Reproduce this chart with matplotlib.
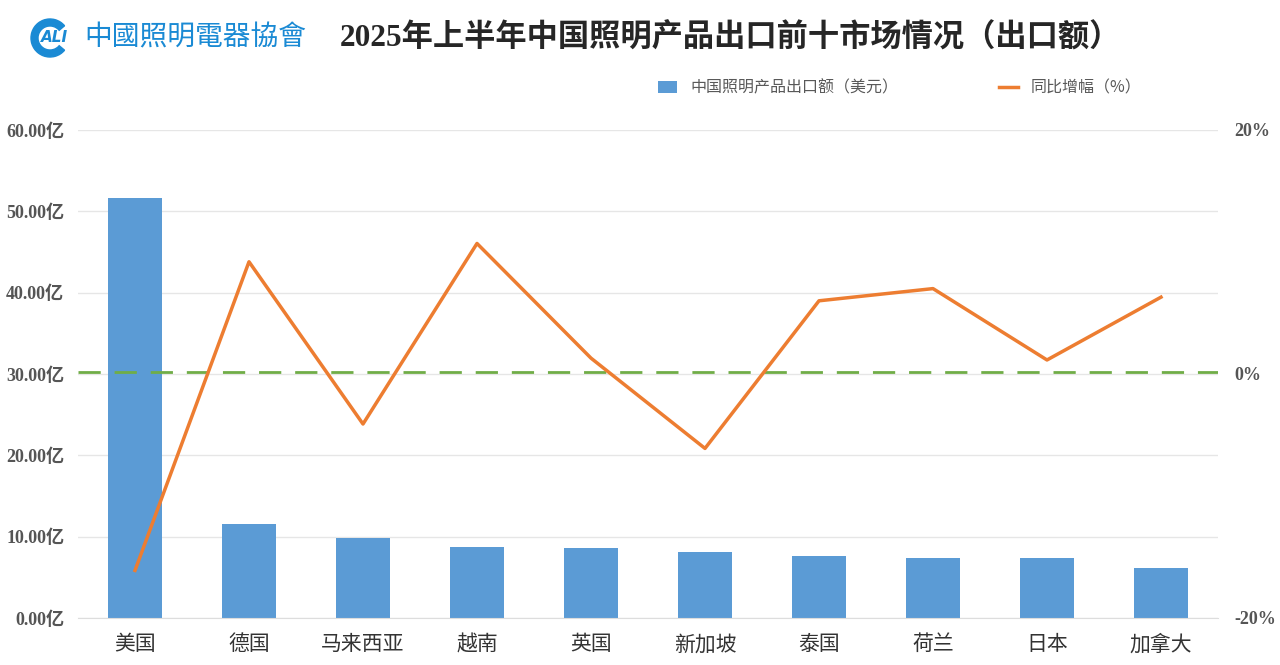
import matplotlib
matplotlib.use("Agg")
import numpy as np
from matplotlib import pyplot as plt
from matplotlib.patches import Wedge

# data
countries = ['美国', '德国', '马来西亚', '越南', '英国', '新加坡', '泰国', '荷兰', '日本', '加拿大']
export_yi = [51.6, 11.5, 9.8, 8.7, 8.6, 8.1, 7.6, 7.4, 7.35, 6.1]   # 亿美元
yoy_pct = [-16.1, 9.2, -4.1, 10.7, 1.3, -6.1, 6.0, 7.0, 1.15, 6.3]   # %
ref_line = 0.2
left_ticks = [0, 10, 20, 30, 40, 50, 60]
right_ticks = [-20, 0, 20]

plt.rcParams['font.family'] = ['Liberation Serif', 'Noto Sans CJK SC', 'DejaVu Sans']

fig = plt.figure(figsize=(12.8, 6.65), dpi=100)
ax = fig.add_axes([78 / 1280, 1 - 618 / 665, 1140 / 1280, 488 / 665])
ax2 = ax.twinx()

x = np.arange(len(countries))
ax.bar(x, export_yi, width=0.48, color='#5b9bd5', zorder=2,
       label='中国照明产品出口额（美元）')
ax.set_xlim(-0.5, len(countries) - 0.5)
ax.set_ylim(0, 60)
ax.set_yticks(left_ticks)
ax.set_yticklabels(['%.2f亿' % v for v in left_ticks], fontsize=13,
                   fontweight='bold', color='#555555')
ax.set_xticks(x)
ax.set_xticklabels(countries, fontsize=15, color='#333333',
                   family=['Noto Sans CJK SC'])
ax.grid(axis='y', color='#e6e6e6', lw=1, zorder=0)
ax.tick_params(axis='x', length=0, pad=11)
ax.tick_params(axis='y', length=0, pad=10)
for s in ['top', 'left', 'right']:
    ax.spines[s].set_visible(False)
ax.spines['bottom'].set_color('#dddddd')

ax2.plot(x, yoy_pct, color='#ed7d31', lw=2.5, label='同比增幅（%）', zorder=3)
ax2.axhline(ref_line, color='#70ad47', lw=2, dashes=(8, 5), zorder=2)
ax2.set_ylim(-20, 20)
ax2.set_yticks(right_ticks)
ax2.set_yticklabels(['%d%%' % v for v in right_ticks], fontsize=13,
                    fontweight='bold', color='#555555')
ax2.tick_params(length=0, pad=12)
for s in ax2.spines.values():
    s.set_visible(False)

# legend
h1, l1 = ax.get_legend_handles_labels()
h2, l2 = ax2.get_legend_handles_labels()
fig.legend(h1 + h2, l1 + l2, loc='center', bbox_to_anchor=(0.703, 1 - 88 / 665),
           ncol=2, frameon=False, columnspacing=6.3, handlelength=1.2,
           prop={'family': ['Noto Sans CJK SC'], 'size': 11.5},
           labelcolor='#595959')

# title
fig.text(0.571, 1 - 38 / 665, '2025年上半年中国照明产品出口前十市场情况（出口额）',
         ha='center', va='center', fontsize=22.5, fontweight='bold', color='#262626')

# logo
logo_color = '#1a8ad4'
lax = fig.add_axes([30 / 1280, 1 - 58 / 665, 40 / 1280, 40 / 665])
lax.set_xlim(-1, 1)
lax.set_ylim(-1, 1)
lax.set_aspect('equal')
lax.axis('off')
lax.add_patch(Wedge((0, 0), 0.95, 40, 320, width=0.35, color=logo_color))
lax.text(0.25, 0, 'ALI', ha='center', va='center', fontsize=11,
         fontweight='bold', style='italic', color=logo_color, family='DejaVu Sans')
fig.text(84 / 1280, 1 - 38 / 665, '中國照明電器協會', ha='left', va='center',
         fontsize=20, color=logo_color, family=['Noto Sans CJK TC'])

fig.savefig('out.png', dpi=100)
